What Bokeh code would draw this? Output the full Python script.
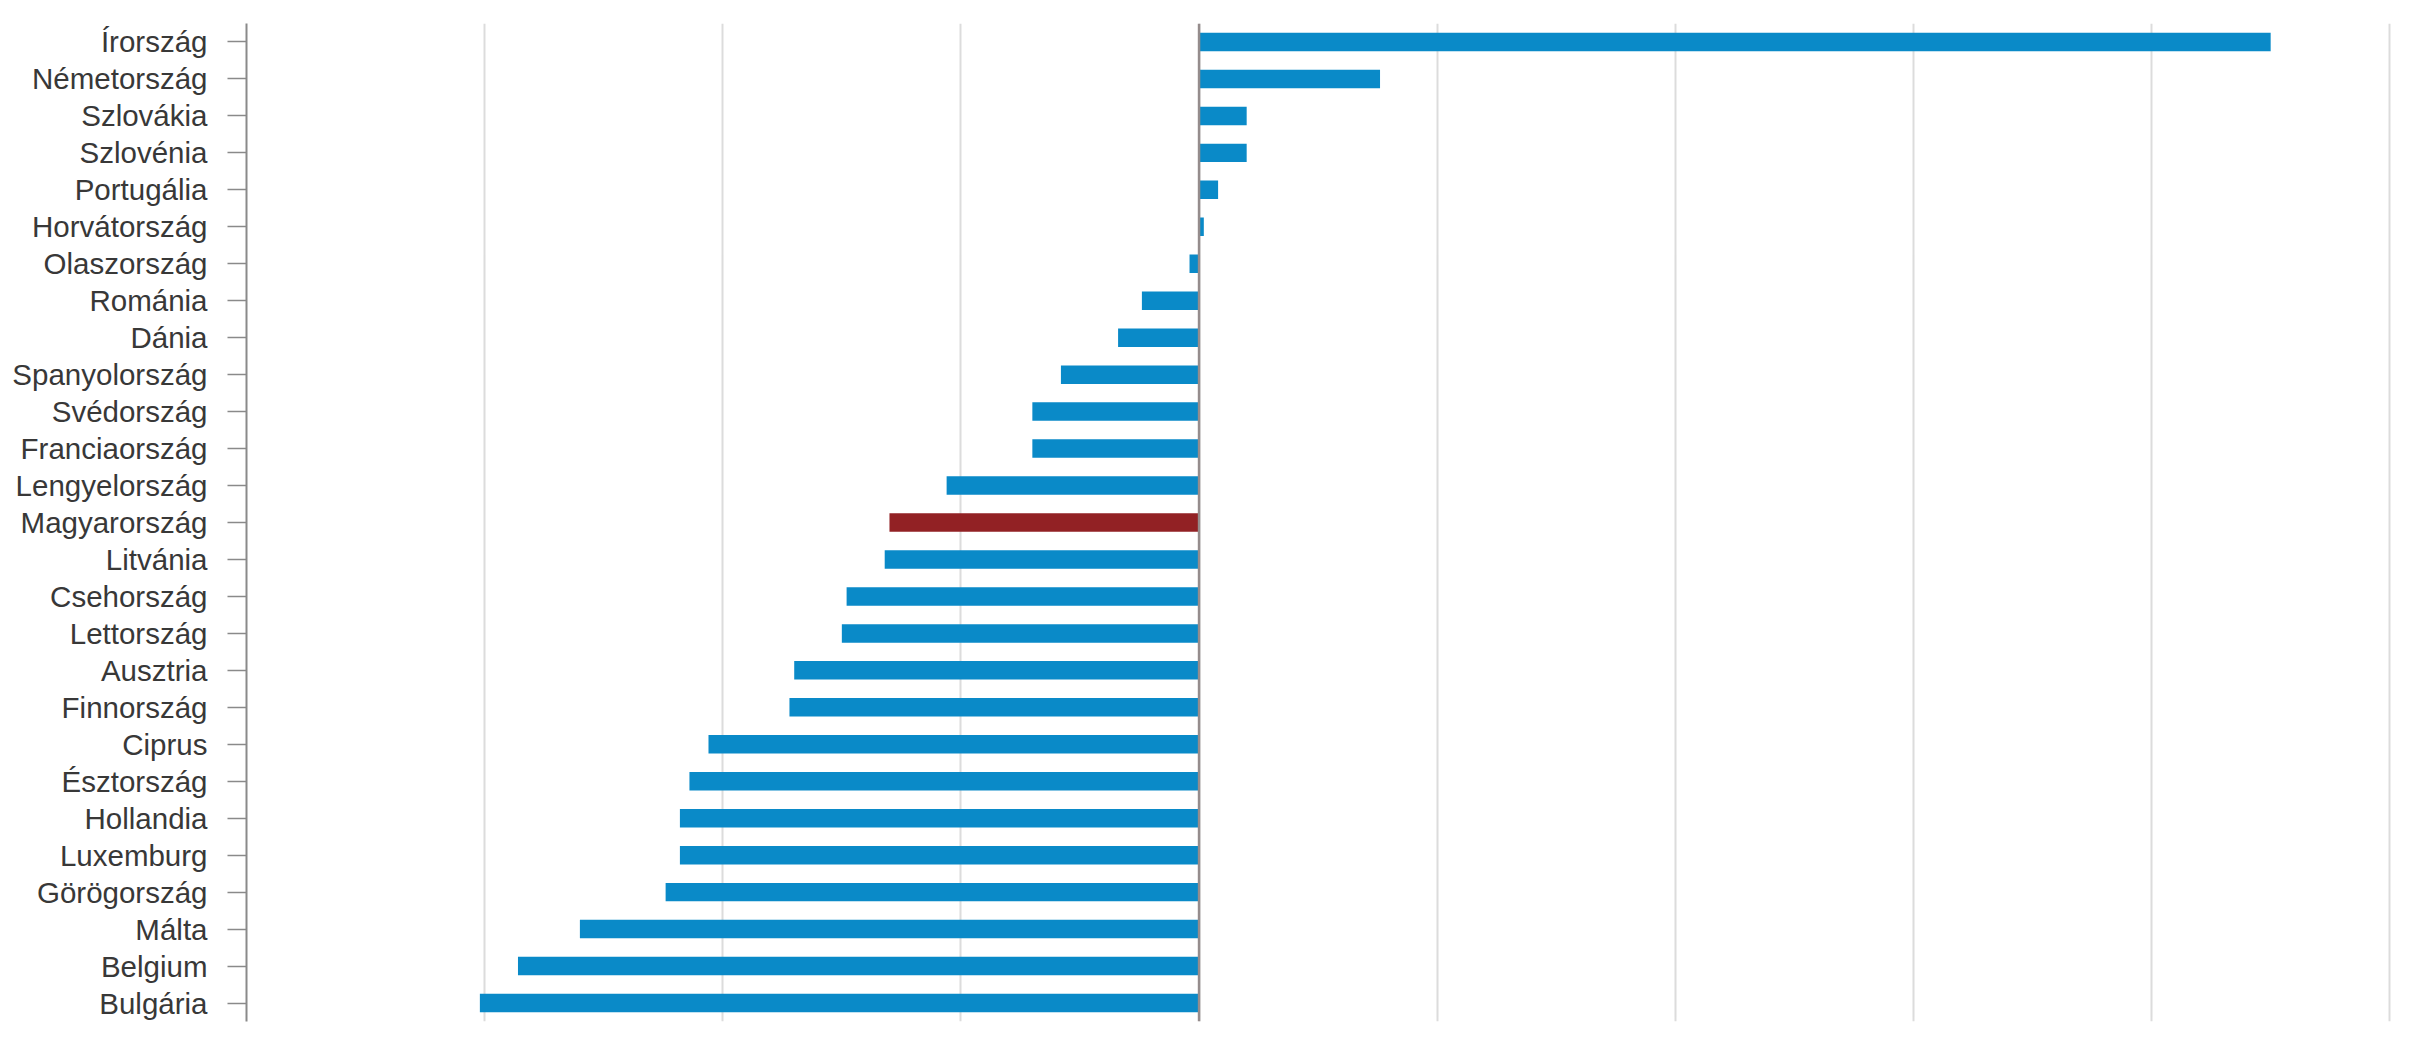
from bokeh.plotting import figure
from bokeh.models import ColumnDataSource, FactorRange, Range1d, FixedTicker, Span
from bokeh.embed import file_html
from bokeh.resources import INLINE

countries = ["Írország", "Németország", "Szlovákia", "Szlovénia", "Portugália",
             "Horvátország", "Olaszország", "Románia", "Dánia", "Spanyolország",
             "Svédország", "Franciaország", "Lengyelország", "Magyarország",
             "Litvánia", "Csehország", "Lettország", "Ausztria", "Finnország",
             "Ciprus", "Észtország", "Hollandia", "Luxemburg", "Görögország",
             "Málta", "Belgium", "Bulgária"]
values = [22.5, 3.8, 1.0, 1.0, 0.4,
          0.1, -0.2, -1.2, -1.7, -2.9,
          -3.5, -3.5, -5.3, -6.5,
          -6.6, -7.4, -7.5, -8.5, -8.6,
          -10.3, -10.7, -10.9, -10.9, -11.2,
          -13.0, -14.3, -15.1]
highlight = "Magyarország"
grid_ticks = [-15, -10, -5, 0, 5, 10, 15, 20, 25]

colors = ["#922124" if c == highlight else "#0a8ac8" for c in countries]
src = ColumnDataSource(dict(country=countries, value=values, color=colors))

p = figure(width=2416, height=1040, output_backend="svg", toolbar_location=None,
           y_range=FactorRange(factors=list(reversed(countries))),
           x_range=Range1d(-20, 25.1),
           min_border_left=246, min_border_right=22, min_border_top=23, min_border_bottom=19)

p.hbar(y="country", left=0, right="value", height=0.5, color="color", source=src, line_color=None)

p.xaxis.visible = False
p.xgrid.ticker = FixedTicker(ticks=grid_ticks)
p.xgrid.grid_line_color = "#dcdcdc"
p.xgrid.grid_line_width = 2
p.ygrid.grid_line_color = None
p.outline_line_color = None

p.yaxis.axis_line_color = "#8a8a8a"
p.yaxis.axis_line_width = 2
p.yaxis.major_tick_line_color = "#8a8a8a"
p.yaxis.major_tick_line_width = 1.5
p.yaxis.major_tick_out = 19
p.yaxis.major_tick_in = 0
p.yaxis.minor_tick_line_color = None
p.yaxis.major_label_standoff = 20
p.yaxis.major_label_text_font = "Liberation Sans"
p.yaxis.major_label_text_font_size = "29.5px"
p.yaxis.major_label_text_color = "#383838"

zero = Span(location=0, dimension="height", line_color="#958c8c", line_width=2.5)
p.add_layout(zero)

open("out.html", "w").write(file_html(p, INLINE))
